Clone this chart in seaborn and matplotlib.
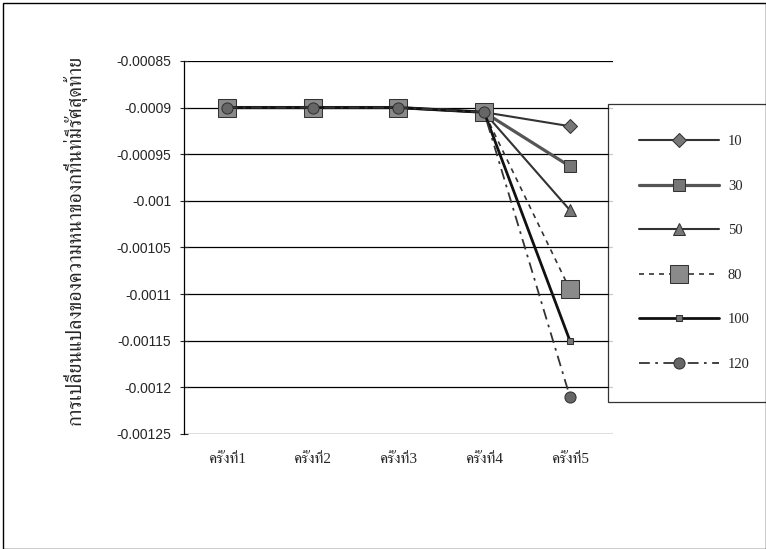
import matplotlib
matplotlib.use("Agg")
import matplotlib.pyplot as plt
import seaborn as sns
from matplotlib import font_manager
from matplotlib.ft2font import FT2Font

# data
categories = ["ครั้งที่1", "ครั้งที่2", "ครั้งที่3", "ครั้งที่4", "ครั้งที่5"]
s10 = [-0.0009, -0.0009, -0.0009, -0.000905, -0.00092]
s30 = [-0.0009, -0.0009, -0.0009, -0.000905, -0.000963]
s50 = [-0.0009, -0.0009, -0.0009, -0.000905, -0.00101]
s80 = [-0.0009, -0.0009, -0.0009, -0.000905, -0.001095]
s100 = [-0.0009, -0.0009, -0.0009, -0.000905, -0.00115]
s120 = [-0.0009, -0.0009, -0.0009, -0.000905, -0.00121]
series_names = ["10", "30", "50", "80", "100", "120"]
y_ticks = [-0.00085, -0.0009, -0.00095, -0.001, -0.00105, -0.0011, -0.00115, -0.0012, -0.00125]
y_label = "การเปลี่ยนแปลงของความหนาของกที่นท่มีรัศสุดท้าย"


def thai_fonts():
    names = []
    for f in font_manager.fontManager.ttflist:
        try:
            if 0x0E01 in FT2Font(f.fname).get_charmap():
                names.append(f.name)
        except Exception:
            pass
    return sorted(set(names))


sns.set_theme(style="white")
found = thai_fonts()
serif_thai = [n for n in ["Norasi", "FreeSerif", "Kinnari"] if n in found] + found
plt.rcParams['font.family'] = ['Liberation Serif'] + serif_thai + ['DejaVu Sans']

fig = plt.figure(figsize=(7.66, 5.49), dpi=100)
ax = fig.add_axes([0.240, 0.2095, 0.560, 0.6795])

styles = [
    dict(color="#333333", lw=1.5, ls="-", marker="D", ms=7, mfc="#777777"),
    dict(color="#555555", lw=2.3, ls="-", marker="s", ms=8, mfc="#777777"),
    dict(color="#333333", lw=1.5, ls="-", marker="^", ms=8, mfc="#777777"),
    dict(color="#333333", lw=1.2, ls=(0, (3, 3)), marker="s", ms=13, mfc="#8a8a8a"),
    dict(color="#111111", lw=2.0, ls="-", marker="s", ms=4, mfc="#777777"),
    dict(color="#333333", lw=1.3, ls=(0, (6, 3, 1.5, 3)), marker="o", ms=8, mfc="#666666"),
]
for vals, name, st in zip([s10, s30, s50, s80, s100, s120], series_names, styles):
    sns.lineplot(x=categories, y=vals, ax=ax, label=name, sort=False,
                 color=st["color"], lw=st["lw"], ls=st["ls"], marker=st["marker"],
                 markersize=st["ms"], markerfacecolor=st["mfc"], markeredgecolor="#333333")

ax.set_xlim(-0.5, 4.5)
ax.set_ylim(-0.00125, -0.00085)
ax.set_yticks(y_ticks)
ax.set_yticklabels([f"{v:g}" for v in y_ticks], fontsize=10, family="Liberation Sans")
ax.tick_params(axis="x", labelsize=11, length=0, pad=14)
ax.tick_params(axis="y", length=6, left=True, width=0.8, direction="inout", pad=6)
for v in y_ticks:
    ax.axhline(v, color="black", lw=0.9, zorder=0)
for side in ["top", "right", "bottom"]:
    ax.spines[side].set_visible(False)
ax.spines["left"].set_color("black")
ax.spines["left"].set_linewidth(0.9)
ax.set_ylabel("")
ax.set_xlabel("")
fig.text(0.098, 0.563, y_label, rotation=90, fontsize=14.5, ha="center", va="center")

leg = ax.legend(loc="upper left", bbox_to_anchor=(0.794, 0.81), bbox_transform=fig.transFigure,
                frameon=True, fancybox=False, edgecolor="black", handlelength=5.5,
                labelspacing=2.15, borderpad=2.1, borderaxespad=0, fontsize=10.5,
                handletextpad=0.6)
leg.get_frame().set_linewidth(0.9)

fig.patches.append(plt.Rectangle((0.004, 0.0), 0.996, 0.994, transform=fig.transFigure,
                                 fill=False, edgecolor="black", lw=1.0))
fig.savefig("out.png", dpi=100)
